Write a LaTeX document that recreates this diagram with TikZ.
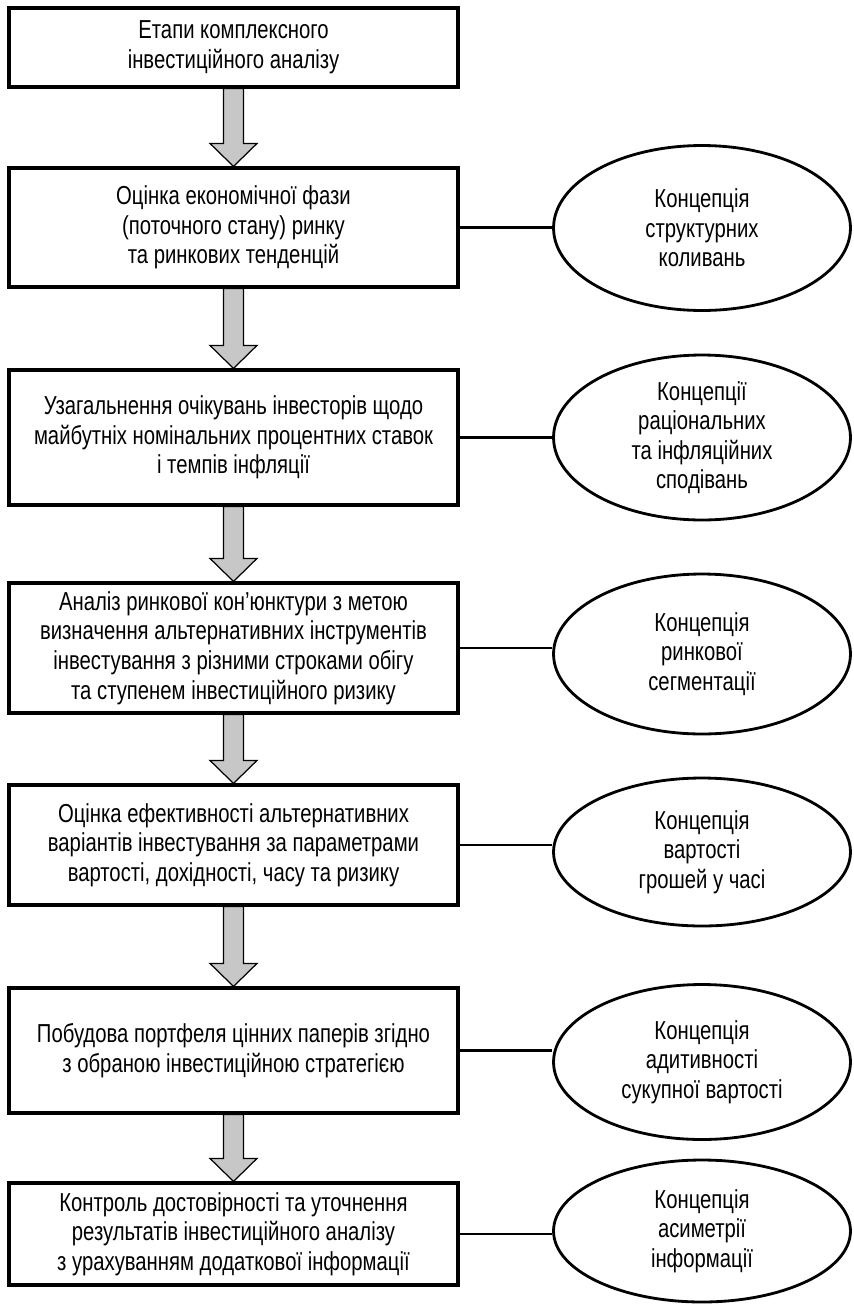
\documentclass[tikz,border=0pt]{standalone}
\usepackage{fontspec}
\setmainfont{Liberation Sans}[FakeStretch=0.78]
\usepackage{tikz}
\usetikzlibrary{calc,shapes.geometric}

\tikzset{
  stage/.style={draw, line width=1.8pt, minimum width=8.98cm, align=center, inner sep=2pt,
    font=\fontsize{14.8}{16.8}\selectfont},
  concept/.style={draw, ellipse, line width=1.6pt, minimum width=5.94cm, align=center, inner sep=0pt,
    font=\fontsize{14.8}{16.8}\selectfont},
  link/.style={line width=1.2pt},
  flow/.style={draw=black, line width=0.7pt, fill=black!22, line join=miter},
}

% grey block arrow from one stage to the next
\newcommand{\stagearrow}[2]{%
  \draw[flow] ($(#1.south)+(-10,0)$) -- ($(#2.north)+(-10,-23)$) -- ($(#2.north)+(-23.5,-23)$)
    -- (#2.north) -- ($(#2.north)+(23.5,-23)$) -- ($(#2.north)+(10,-23)$) -- ($(#1.south)+(10,0)$) -- cycle;}

\begin{document}
\begin{tikzpicture}[x=0.02cm, y=-0.02cm]
      \useasboundingbox (0,0) rectangle (853,1305);
      % stages
      \node[stage, minimum height=1.58cm] (b1) at (233.5,47.5) {Етапи комплексного\\інвестиційного аналізу};
      \node[stage, minimum height=2.38cm] (b2) at (233.5,227.5) {Оцінка економічної фази\\(поточного стану) ринку\\та ринкових тенденцій};
      \node[stage, minimum height=2.7cm] (b3) at (233.5,437.5) {Узагальнення очікувань інвесторів щодо\\майбутніх номінальних процентних ставок\\і темпів інфляції};
      \node[stage, minimum height=2.6cm] (b4) at (233.5,648) {Аналіз ринкової кон’юнктури з метою\\визначення альтернативних інструментів\\інвестування з різними строками обігу\\та ступенем інвестиційного ризику};
      \node[stage, minimum height=2.4cm] (b5) at (233.5,845) {Оцінка ефективності альтернативних\\варіантів інвестування за параметрами\\вартості, дохідності, часу та ризику};
      \node[stage, minimum height=2.5cm] (b6) at (233.5,1050.5) {Побудова портфеля цінних паперів згідно\\з обраною інвестиційною стратегією};
      \node[stage, minimum height=2.04cm] (b7) at (233.5,1234) {Контроль достовірності та уточнення\\результатів інвестиційного аналізу\\з урахуванням додаткової інформації};
      % concepts
      \node[concept, minimum height=3.3cm] (e1) at (702,228) {Концепція\\структурних\\коливань};
      \node[concept, minimum height=3.3cm] (e2) at (702,437.5) {Концепції\\раціональних\\та інфляційних\\сподівань};
      \node[concept, minimum height=3.2cm] (e3) at (702,654) {Концепція\\ринкової\\сегментації};
      \node[concept, minimum height=2.96cm] (e4) at (702,852) {Концепція\\вартості\\грошей у часі};
      \node[concept, minimum height=3.1cm] (e5) at (702,1062) {Концепція\\адитивності\\сукупної вартості};
      \node[concept, minimum height=2.84cm] (e6) at (702,1231) {Концепція\\асиметрії\\інформації};
      % arrows between stages
      \stagearrow{b1}{b2}
      \stagearrow{b2}{b3}
      \stagearrow{b3}{b4}
      \stagearrow{b4}{b5}
      \stagearrow{b5}{b6}
      \stagearrow{b6}{b7}
      % links to concepts
      \draw[link] (b2.east) -- (b2.east -| e1.west);
      \draw[link] (b3.east) -- (b3.east -| e2.west);
      \draw[link] (b4.east) -- (b4.east -| e3.west);
      \draw[link] (b5.east) -- (b5.east -| e4.west);
      \draw[link] (b6.east) -- (b6.east -| e5.west);
      \draw[link] (b7.east) -- (b7.east -| e6.west);
    \end{tikzpicture}
\end{document}
